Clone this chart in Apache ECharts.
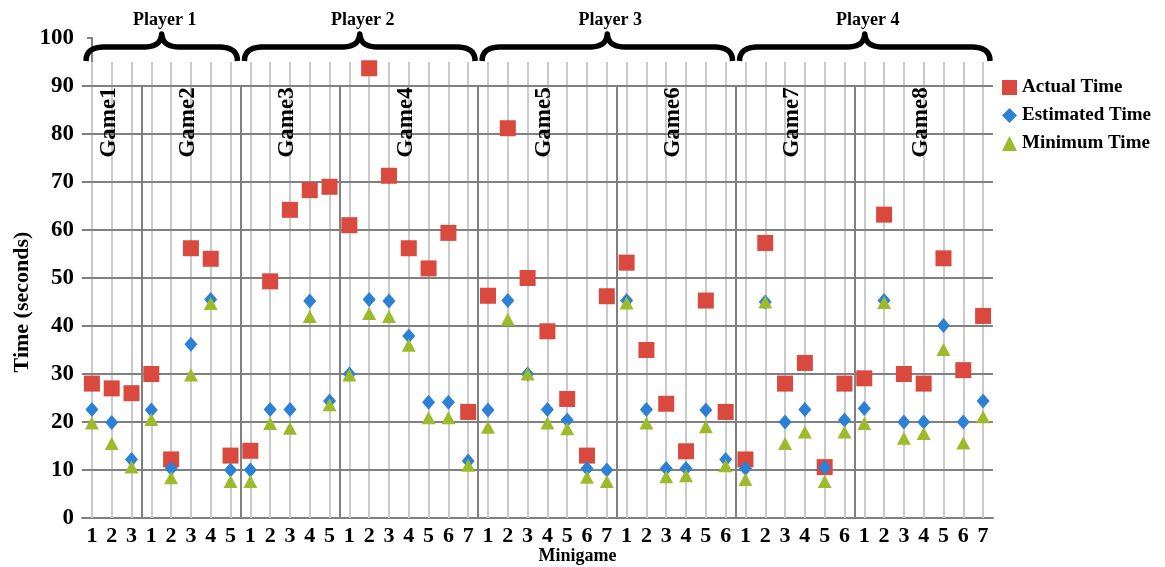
<!DOCTYPE html>
<html>
<head>
<meta charset="utf-8">
<script src="https://cdn.jsdelivr.net/npm/echarts@6/dist/echarts.min.js"></script>
<style>
html,body{margin:0;padding:0;background:#fff;}
#chart{width:1165px;height:567px;}
</style>
</head>
<body>
<div id="chart"></div>
<script>
// ---- data ----
const games = ['Game1','Game2','Game3','Game4','Game5','Game6','Game7','Game8'];
const gameSizes = [3,5,5,7,7,6,6,7];
const players = ['Player 1','Player 2','Player 3','Player 4'];
const playerGames = [[0,1],[2,3],[4,5],[6,7]];
const categories = ['1','2','3', '1','2','3','4','5', '1','2','3','4','5', '1','2','3','4','5','6','7',
  '1','2','3','4','5','6','7', '1','2','3','4','5','6', '1','2','3','4','5','6', '1','2','3','4','5','6','7'];
const actualTime = [28,27,26, 30,12.2,56.2,54,13, 14,49.3,64.2,68.3,69, 61,93.7,71.3,56.2,52,59.4,22.1,
  46.3,81.2,50,38.9,24.8,13,46.2, 53.2,35,23.8,13.9,45.3,22.1, 12.2,57.3,28,32.3,10.6,28, 29.1,63.2,30,28,54.1,30.8,42.1];
const estimatedTime = [22.6,19.9,12.2, 22.5,10.3,36.2,45.5,10, 10,22.6,22.6,45.2,24.4, 30,45.5,45.2,37.9,24.1,24.1,11.9,
  22.5,45.3,30,22.6,20.4,10.3,10, 45.3,22.6,10.3,10.3,22.5,12.2, 10.3,45,20,22.6,10.5,20.4, 22.8,45.3,20,20,40.1,20,24.4];
const minimumTime = [19.8,15.5,10.6, 20.5,8.4,29.8,44.7,7.6, 7.6,19.7,18.7,42,23.6, 29.8,42.6,42,36,20.9,20.9,11,
  18.9,41.4,30,19.8,18.6,8.5,7.6, 44.8,19.8,8.6,8.8,19,10.9, 8,45,15.5,17.9,7.6,17.9, 19.7,44.9,16.6,17.6,35.1,15.6,21.1];
const yTicks = [0,10,20,30,40,50,60,70,80,90,100];

// ---- styles ----
const FONT = 'Liberation Serif';
const RED = '#d9493e', BLUE = '#2c80d5', GREEN = '#9cbb2b';
const DARK = '#808080', LIGHT = '#cacaca';

const chart = echarts.init(document.getElementById('chart'), null, {renderer: 'canvas'});

// game boundaries (in category index units)
const starts = [];
let acc = 0;
gameSizes.forEach(s => { starts.push(acc); acc += s; });
const boundaries = starts.slice(1).map(s => s - 0.5);

const lightLines = categories.map((c, i) => [{xAxis: i, yAxis: 0}, {xAxis: i, yAxis: 95}]);
const darkLines = boundaries.map(b => [{xAxis: b, yAxis: 0}, {xAxis: b, yAxis: 90}]);
const hLines = yTicks.filter(v => v > 0 && v < 100).map(v => [{xAxis: -0.5, yAxis: v}, {xAxis: categories.length - 0.5, yAxis: v}]);

chart.setOption({
  animation: false,
  backgroundColor: '#fff',
  grid: {left: 82, right: 172, top: 38, bottom: 49},
  legend: {
    orient: 'vertical', left: 997, top: 73, itemGap: 9, itemWidth: 15, itemHeight: 15,
    textStyle: {fontFamily: FONT, fontWeight: 'bold', fontSize: 19, color: '#000'},
    data: [
      {name: 'Actual Time', icon: 'rect'},
      {name: 'Estimated Time', icon: 'diamond'},
      {name: 'Minimum Time', icon: 'triangle'}
    ]
  },
  xAxis: [{
    type: 'category', data: categories, boundaryGap: true,
    axisLine: {lineStyle: {color: DARK, width: 2}},
    axisTick: {show: false},
    axisLabel: {interval: 0, margin: 7, color: '#000', fontFamily: FONT, fontWeight: 'bold', fontSize: 22},
    splitLine: {show: false}
  }, {
    type: 'value', min: -0.5, max: categories.length - 0.5, show: false
  }],
  yAxis: {
    type: 'value', min: 0, max: 100, interval: 10,
    axisLine: {show: true, lineStyle: {color: DARK, width: 2}},
    axisTick: {show: true, length: 5, lineStyle: {color: DARK, width: 2}},
    axisLabel: {margin: 8, color: '#000', fontFamily: FONT, fontWeight: 'bold', fontSize: 23},
    splitLine: {show: false}
  },
  series: [
    {
      type: 'line', xAxisIndex: 1, data: [], z: 1, silent: true,
      markLine: {silent: true, z: 1, symbol: 'none', label: {show: false}, animation: false,
        lineStyle: {color: LIGHT, width: 2, type: 'solid'}, data: lightLines}
    },
    {
      type: 'line', xAxisIndex: 1, data: [], z: 1, silent: true,
      markLine: {silent: true, z: 1, symbol: 'none', label: {show: false}, animation: false,
        lineStyle: {color: DARK, width: 2, type: 'solid'}, data: hLines.concat(darkLines)}
    },
    {name: 'Actual Time', type: 'scatter', symbol: 'rect', symbolSize: 16, z: 3,
      itemStyle: {color: RED, opacity: 1}, data: actualTime},
    {name: 'Estimated Time', type: 'scatter', symbol: 'diamond', symbolSize: [13, 15], z: 4,
      itemStyle: {color: BLUE, opacity: 1}, data: estimatedTime},
    {name: 'Minimum Time', type: 'scatter', symbol: 'triangle', symbolSize: [14, 13], z: 5,
      itemStyle: {color: GREEN, opacity: 1}, data: minimumTime}
  ]
});

// ---- annotations positioned from the axes ----
function px(xIdx, y) { return chart.convertToPixel({xAxisIndex: 1, yAxisIndex: 0}, [xIdx, y]); }

function cubic(p0, p1, p2, p3, n) {
  const pts = [];
  for (let k = 0; k <= n; k++) {
    const t = k / n, u = 1 - t;
    pts.push([
      u*u*u*p0[0] + 3*u*u*t*p1[0] + 3*u*t*t*p2[0] + t*t*t*p3[0],
      u*u*u*p0[1] + 3*u*u*t*p1[1] + 3*u*t*t*p2[1] + t*t*t*p3[1]
    ]);
  }
  return pts;
}
function bracePoints(x0, x1, yBot, yBar, yTip) {
  const m = (x0 + x1) / 2, r = 20;
  let pts = [];
  pts = pts.concat(cubic([x0, yBot], [x0, yBar + 3], [x0 + 8, yBar], [x0 + r, yBar], 12));
  pts = pts.concat(cubic([m - r, yBar], [m - 7, yBar], [m - 1, yBar - 3], [m, yTip], 12));
  pts = pts.concat(cubic([m, yTip], [m + 1, yBar - 3], [m + 7, yBar], [m + r, yBar], 12));
  pts = pts.concat(cubic([x1 - r, yBar], [x1 - 8, yBar], [x1, yBar + 3], [x1, yBot], 12));
  return pts;
}

const graphics = [];
const topY = px(0, 100)[1];
playerGames.forEach((pg, i) => {
  const a = starts[pg[0]] - 0.5;
  const b = starts[pg[pg.length - 1]] + gameSizes[pg[pg.length - 1]] - 0.5;
  const x0 = px(a, 0)[0] + 4, x1 = px(b, 0)[0] - 3;
  graphics.push({
    type: 'polyline', silent: true, z: 10,
    shape: {points: bracePoints(x0, x1, topY + 23, topY + 9, topY - 4)},
    style: {stroke: '#000', lineWidth: 5.5, fill: null, lineJoin: 'round', lineCap: 'butt'}
  });
  graphics.push({
    type: 'text', silent: true, z: 10, x: (x0 + x1) / 2 + 3, y: topY - 18,
    style: {text: players[i], font: 'bold 18px "' + FONT + '"', fill: '#000', textAlign: 'center', textVerticalAlign: 'middle'}
  });
});
games.forEach((g, i) => {
  const mid = starts[i] + (gameSizes[i] - 1) / 2;
  const p = px(mid, 82);
  graphics.push({
    type: 'text', silent: true, z: 10, x: p[0] - 3, y: p[1] - 2, rotation: Math.PI / 2,
    style: {text: g, font: 'bold 23px "' + FONT + '"', fill: '#000', textAlign: 'center', textVerticalAlign: 'middle'}
  });
});
// axis titles
graphics.push({
  type: 'text', silent: true, z: 10, x: 22, y: px(0, 45)[1], rotation: Math.PI / 2,
  style: {text: 'Time (seconds)', font: 'bold 22px "' + FONT + '"', fill: '#000', textAlign: 'center', textVerticalAlign: 'middle'}
});
graphics.push({
  type: 'text', silent: true, z: 10, x: px(23, 0)[0] + 30, y: 556,
  style: {text: 'Minigame', font: 'bold 18px "' + FONT + '"', fill: '#000', textAlign: 'center', textVerticalAlign: 'middle'}
});
chart.setOption({graphic: graphics});
</script>
</body>
</html>
